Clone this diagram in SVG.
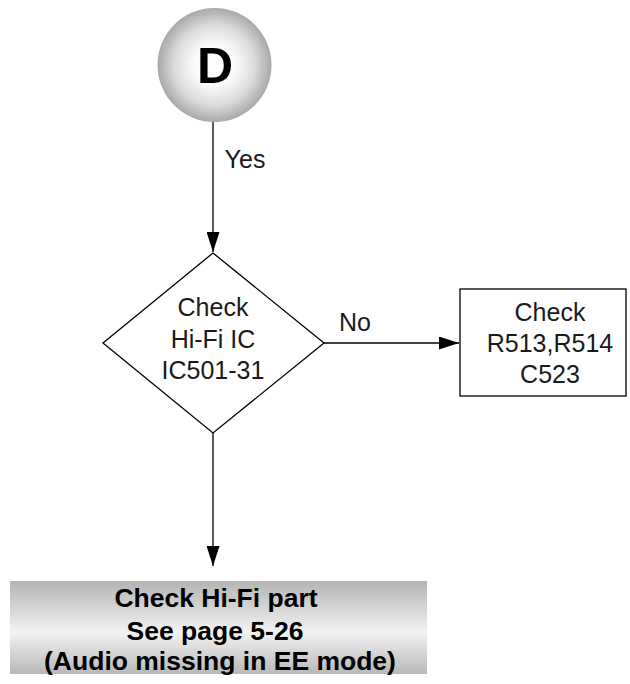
<svg xmlns="http://www.w3.org/2000/svg" width="630" height="684" viewBox="0 0 630 684">
  <defs>
    <radialGradient id="ball" cx="0.5" cy="0.5" r="0.5">
      <stop offset="0" stop-color="#ffffff"/>
      <stop offset="0.35" stop-color="#fbfbfb"/>
      <stop offset="0.7" stop-color="#dcdcdc"/>
      <stop offset="1" stop-color="#a8a8a8"/>
    </radialGradient>
    <linearGradient id="bar" x1="0" y1="0" x2="0" y2="1">
      <stop offset="0" stop-color="#b4b4b4"/>
      <stop offset="0.55" stop-color="#f2f2f2"/>
      <stop offset="1" stop-color="#b8b8b8"/>
    </linearGradient>
    <marker id="arr" markerWidth="20" markerHeight="13" refX="20" refY="6.5" orient="auto" markerUnits="userSpaceOnUse">
      <path d="M0,0 L20,6.5 L0,13 Z" fill="#000"/>
    </marker>
    <style>
      .t { font-family: "Liberation Sans", Arial, sans-serif; font-size: 25px; fill: #1a1a1a; text-anchor: middle; }
      .b { font-family: "Liberation Sans", Arial, sans-serif; font-size: 26.5px; font-weight: bold; fill: #000; text-anchor: middle; }
      .ln { stroke: #000; stroke-width: 1.3; fill: none; }
      .shape { stroke: #000; stroke-width: 1.3; fill: #fff; }
    </style>
  </defs>

  <g id="connectors">
    <line class="ln" x1="213" y1="122" x2="213" y2="252" marker-end="url(#arr)"/>
    <line class="ln" x1="324" y1="343" x2="459" y2="343" marker-end="url(#arr)"/>
    <line class="ln" x1="213" y1="433" x2="213" y2="566" marker-end="url(#arr)"/>
    <text class="t" x="245" y="168">Yes</text>
    <text class="t" x="355" y="331">No</text>
  </g>

  <g id="nodeD">
    <circle cx="214.5" cy="65" r="57" fill="url(#ball)"/>
    <text x="215" y="83" font-family="'Liberation Sans', Arial, sans-serif" font-size="50" font-weight="bold" text-anchor="middle" fill="#000">D</text>
  </g>

  <g id="decision">
    <polygon class="shape" points="213,253 324,343 213,433 103,343"/>
    <text class="t" x="213" y="316">Check</text>
    <text class="t" x="213" y="348">Hi-Fi IC</text>
    <text class="t" x="213" y="379">IC501-31</text>
  </g>

  <g id="checkR">
    <rect class="shape" x="460" y="289" width="166" height="107"/>
    <text class="t" x="550" y="321">Check</text>
    <text class="t" x="550" y="352">R513,R514</text>
    <text class="t" x="550" y="383">C523</text>
  </g>

  <g id="hifiPart">
    <rect x="10" y="581" width="417" height="93" fill="url(#bar)"/>
    <text class="b" x="216" y="607">Check Hi-Fi part</text>
    <text class="b" x="215" y="640">See page 5-26</text>
    <text class="b" x="220" y="670">(Audio missing in EE mode)</text>
  </g>
</svg>
